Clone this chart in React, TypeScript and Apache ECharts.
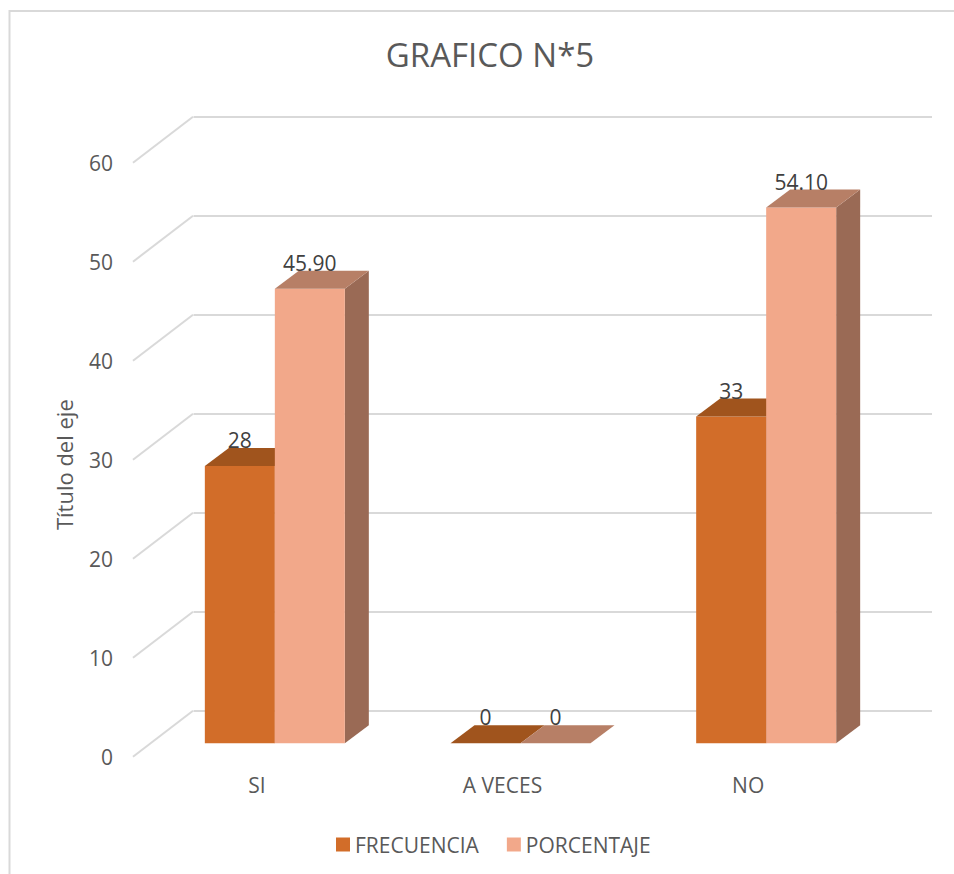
import React, { useEffect, useRef } from "react";
import * as echarts from "echarts";

const categories = ["SI", "A VECES", "NO"];
const frecuencia = [28, 0, 33];
const porcentaje = [45.9, 0, 54.1];
const frecuenciaLabels = ["28", "0", "33"];
const porcentajeLabels = ["45.90", "0", "54.10"];
const yTicks = [0, 10, 20, 30, 40, 50, 60];

const FONT = '"Open Sans", sans-serif';
const TEXT = "#595959";
const GRID = "#D9D9D9";

// Pseudo-3D geometry in pixels
const WALL_DX = 60;
const WALL_DY = 46;
const BAR_SHIFT_X = 18;
const BAR_SHIFT_Y = 13.5;
const BAR_W = 70;
const DEPTH_X = 24;
const DEPTH_Y = 18;

function box(colors: string[], side: number, labels: string[]) {
  return (params: any, api: any) => {
    const cat = api.value(0);
    const [cx, yTop] = api.coord([cat, api.value(1)]);
    const [, yBase] = api.coord([cat, 0]);
    const x0 = cx + BAR_SHIFT_X + (side < 0 ? -BAR_W : 0);
    const x1 = x0 + BAR_W;
    const top = yTop - BAR_SHIFT_Y;
    const base = yBase - BAR_SHIFT_Y;
    const children: any[] = [];
    if (base - top > 0.5) {
      children.push({
        type: "polygon",
        shape: { points: [[x1, top], [x1 + DEPTH_X, top - DEPTH_Y], [x1 + DEPTH_X, base - DEPTH_Y], [x1, base]] },
        style: { fill: colors[2] },
      });
      children.push({
        type: "rect",
        shape: { x: x0, y: top, width: BAR_W, height: base - top },
        style: { fill: colors[0] },
      });
    }
    children.push({
      type: "polygon",
      shape: { points: [[x0, top], [x0 + DEPTH_X, top - DEPTH_Y], [x1 + DEPTH_X, top - DEPTH_Y], [x1, top]] },
      style: { fill: colors[1] },
    });
    children.push({
      type: "text",
      z2: 10,
      style: {
        x: (x0 + x1) / 2,
        y: top - 26,
        text: labels[cat],
        fill: "#404040",
        font: `21px ${FONT}`,
        align: "center",
        verticalAlign: "middle",
      },
    });
    return { type: "group", children };
  };
}

function wallLine(params: any, api: any) {
  const [, y] = api.coord([0, api.value(0)]);
  const x = params.coordSys.x - 1;
  return {
    type: "line",
    shape: { x1: x, y1: y, x2: x + WALL_DX, y2: y - WALL_DY },
    style: { stroke: GRID, lineWidth: 2 },
  };
}

export default function App() {
  const ref = useRef<HTMLDivElement>(null);
  useEffect(() => {
    const chart = echarts.init(ref.current!, undefined, { renderer: "svg" });
    chart.setOption({
      animation: false,
      backgroundColor: "#fff",
      textStyle: { fontFamily: FONT },
      title: {
        text: "GRAFICO N*5",
        left: 485,
        top: 33,
        textAlign: "center",
        textStyle: { fontFamily: FONT, fontSize: 33, fontWeight: "normal", color: TEXT },
      },
      legend: {
        data: ["FRECUENCIA", "PORCENTAJE"],
        left: 331,
        top: 829,
        icon: "rect",
        itemWidth: 14,
        itemHeight: 14,
        itemGap: 28,
        textStyle: { fontFamily: FONT, fontSize: 21, color: TEXT },
      },
      grid: [
        // back wall
        { left: 193.5, top: 116.7, width: 738.5, height: 594, containLabel: false },
        // front edge of the floor, carrying the labels and the bars
        { left: 134, top: 162.7, width: 737, height: 594, containLabel: false },
      ],
      xAxis: [
        {
          gridIndex: 0, type: "category", data: categories, show: false,
        },
        {
          gridIndex: 1, type: "category", data: categories,
          axisLine: { show: false }, axisTick: { show: false }, splitLine: { show: false },
          axisLabel: { fontFamily: FONT, fontSize: 21, color: TEXT, margin: 18 },
        },
      ],
      yAxis: [
        {
          gridIndex: 0, type: "value", min: 0, max: 60, interval: 10,
          axisLine: { show: false }, axisTick: { show: false }, axisLabel: { show: false },
          splitLine: { show: true, lineStyle: { color: GRID, width: 2 } },
        },
        {
          gridIndex: 1, type: "value", min: 0, max: 60, interval: 10,
          axisLine: { show: false }, axisTick: { show: false }, splitLine: { show: false },
          axisLabel: { fontFamily: FONT, fontSize: 21, color: TEXT, margin: 21 },
          name: "Título del eje",
          nameLocation: "middle",
          nameGap: 59,
          nameTextStyle: { fontFamily: FONT, fontSize: 22, color: TEXT, padding: [0, 10, 0, 0] },
        },
      ],
      graphic: [
        {
          type: "polyline",
          silent: true,
          shape: { points: [[9.5, 874], [9.5, 11], [954, 11]] },
          style: { stroke: "#D9D9D9", lineWidth: 2, fill: "none" },
        },
      ],
      series: [
        {
          type: "custom",
          name: "pared",
          xAxisIndex: 1,
          yAxisIndex: 1,
          clip: false,
          silent: true,
          renderItem: wallLine,
          data: yTicks.map((v) => [v]),
          encode: { y: 0 },
        },
        {
          type: "custom",
          name: "FRECUENCIA",
          xAxisIndex: 1,
          yAxisIndex: 1,
          clip: false,
          itemStyle: { color: "#D26D29" },
          renderItem: box(["#D26D29", "#A0541D", "#8F4B1A"], -1, frecuenciaLabels),
          data: frecuencia.map((v, i) => [i, v]),
          encode: { x: 0, y: 1 },
        },
        {
          type: "custom",
          name: "PORCENTAJE",
          xAxisIndex: 1,
          yAxisIndex: 1,
          clip: false,
          itemStyle: { color: "#F2A88A" },
          renderItem: box(["#F2A88A", "#B77F66", "#9A6A55"], 1, porcentajeLabels),
          data: porcentaje.map((v, i) => [i, v]),
          encode: { x: 0, y: 1 },
        },
      ],
    });
    return () => chart.dispose();
  }, []);
  return <div ref={ref} style={{ position: "absolute", left: 0, top: 0, width: 954, height: 874 }} />;
}
